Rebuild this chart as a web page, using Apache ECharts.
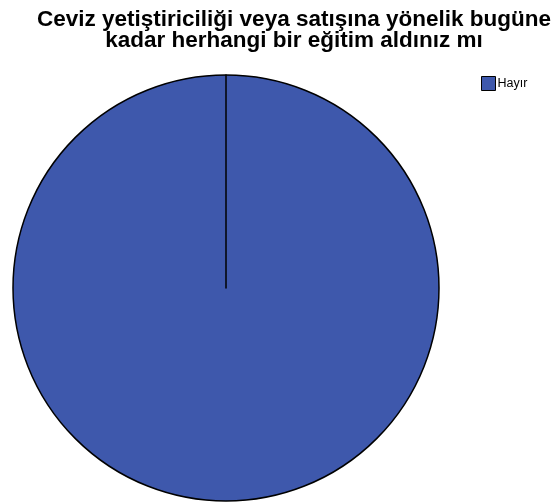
<!DOCTYPE html>
<html>
<head>
<meta charset="utf-8">
<script src="https://cdn.jsdelivr.net/npm/echarts@6/dist/echarts.min.js"></script>
<style>html,body{margin:0;padding:0;background:#fff;}#c{width:556px;height:502px;}</style>
</head>
<body>
<div id="c"></div>
<script>
const titleLines = ['Ceviz yetiştiriciliği veya satışına yönelik bugüne', 'kadar herhangi bir eğitim aldınız mı'];
const categories = ['Hayır', ''];
const values = [100, 0];
const colors = ['#3E58AC', '#3E58AC'];

const chart = echarts.init(document.getElementById('c'), null, {renderer: 'canvas'});
chart.setOption({
  animation: false,
  title: {
    text: titleLines.join('\n'),
    left: 294, top: 9, textAlign: 'center', padding: 0,
    textStyle: {fontFamily: 'Liberation Sans, Arial', fontWeight: 'bold', fontSize: 22.5, lineHeight: 21, color: '#000'}
  },
  legend: {
    data: [categories[0]],
    left: 481, top: 76, orient: 'vertical', padding: 0,
    itemWidth: 14, itemHeight: 14, itemGap: 4,
    icon: 'rect',
    itemStyle: {borderColor: '#000', borderWidth: 1},
    textStyle: {fontFamily: 'Liberation Sans, Arial', fontSize: 12.5, color: '#000', padding: [0,0,0,-3]}
  },
  series: [{
    type: 'pie',
    center: [226, 288],
    radius: 213,
    startAngle: 90,
    clockwise: true,
    minAngle: 0,
    label: {show: false},
    labelLine: {show: false},
    emphasis: {disabled: true},
    itemStyle: {borderColor: '#000', borderWidth: 1.5},
    data: categories.map((c, i) => ({name: c, value: values[i], itemStyle: {color: colors[i]}}))
  }]
});
</script>
</body>
</html>
